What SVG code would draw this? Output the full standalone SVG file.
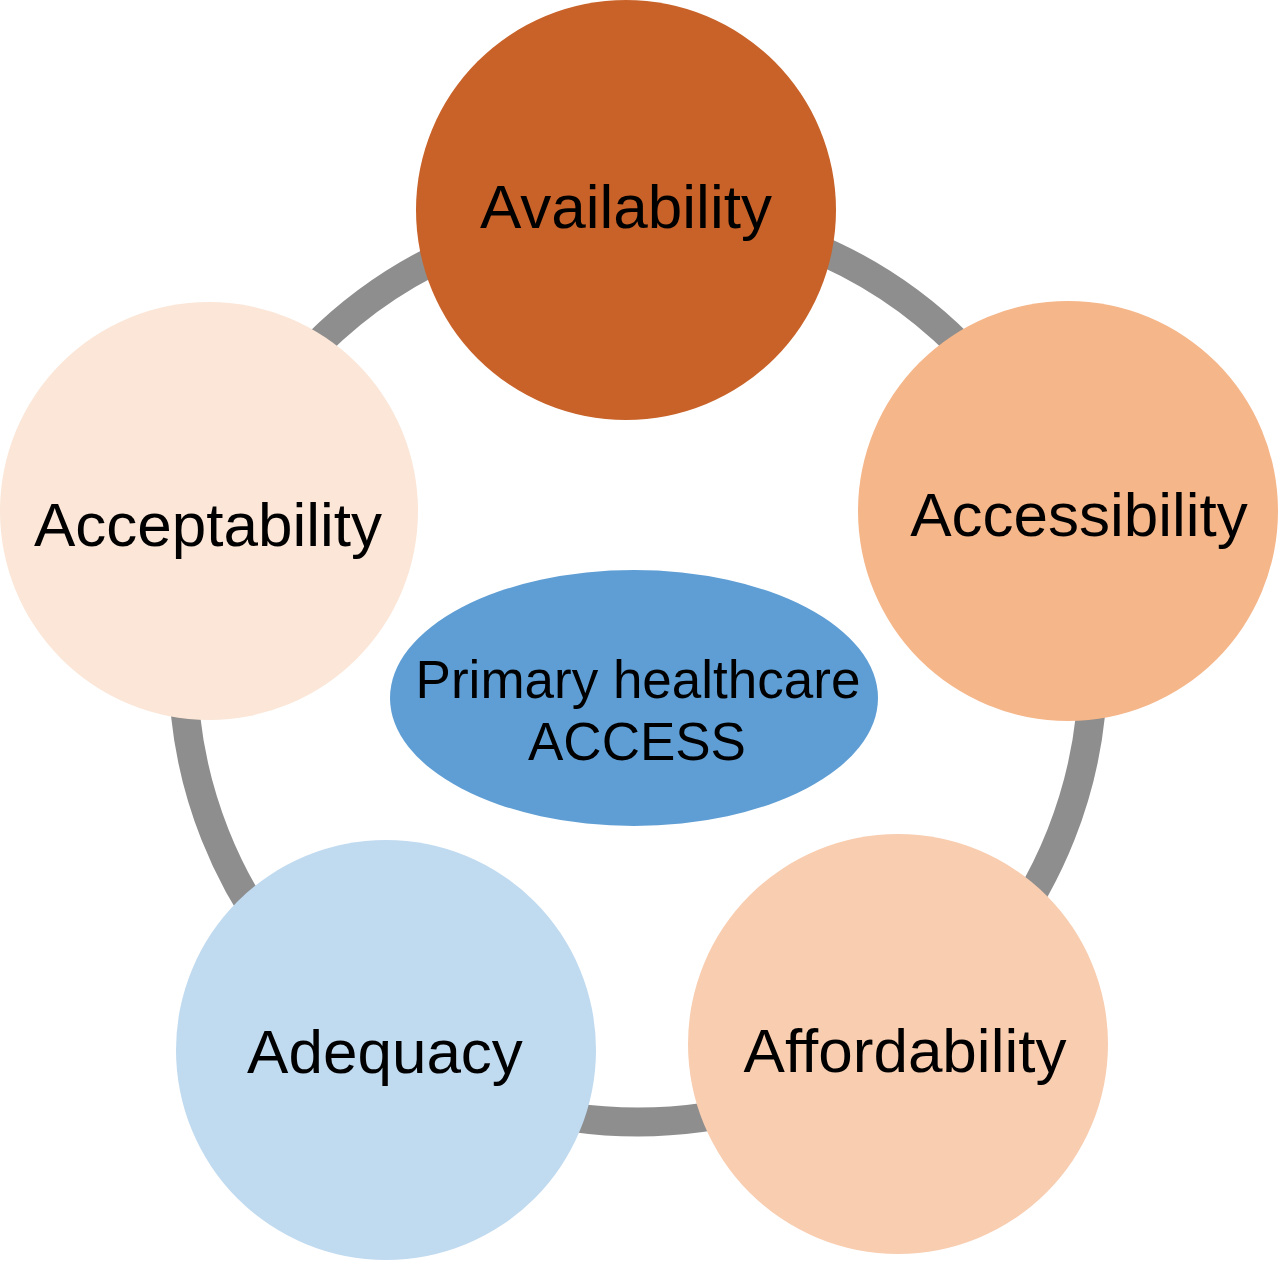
<svg xmlns="http://www.w3.org/2000/svg" width="1280" height="1263" viewBox="0 0 1280 1263">
<style>
.lbl{font-family:"Liberation Sans",Arial,sans-serif;font-size:62px;fill:#000;text-anchor:middle}
.ctr{font-family:"Liberation Sans",Arial,sans-serif;font-size:53px;fill:#000;text-anchor:middle}
</style>
<rect width="1280" height="1263" fill="#fff"/>
<g id="connectors">
<circle cx="638" cy="667" r="455" fill="none" stroke="#8e8e8e" stroke-width="29"/>
</g>
<g id="availability">
<circle cx="626" cy="210" r="210" fill="#c86228"/>
<text class="lbl" x="626" y="228">Availability</text>
</g>
<g id="accessibility">
<circle cx="1068" cy="511" r="210" fill="#f5b68a"/>
<text class="lbl" x="1079" y="536">Accessibility</text>
</g>
<g id="affordability">
<circle cx="898" cy="1044" r="210" fill="#f8cdb0"/>
<text class="lbl" x="905" y="1072">Affordability</text>
</g>
<g id="adequacy">
<circle cx="386" cy="1050" r="210" fill="#c0daf0"/>
<text class="lbl" x="385" y="1073">Adequacy</text>
</g>
<g id="acceptability">
<circle cx="209" cy="511" r="209" fill="#fbe6d7"/>
<text class="lbl" x="208" y="546">Acceptability</text>
</g>
<g id="center">
<ellipse cx="634" cy="698" rx="244" ry="128" fill="#5f9ed4"/>
<text class="ctr" x="638" y="698">Primary healthcare</text>
<text class="ctr" x="637" y="760">ACCESS</text>
</g>
</svg>
